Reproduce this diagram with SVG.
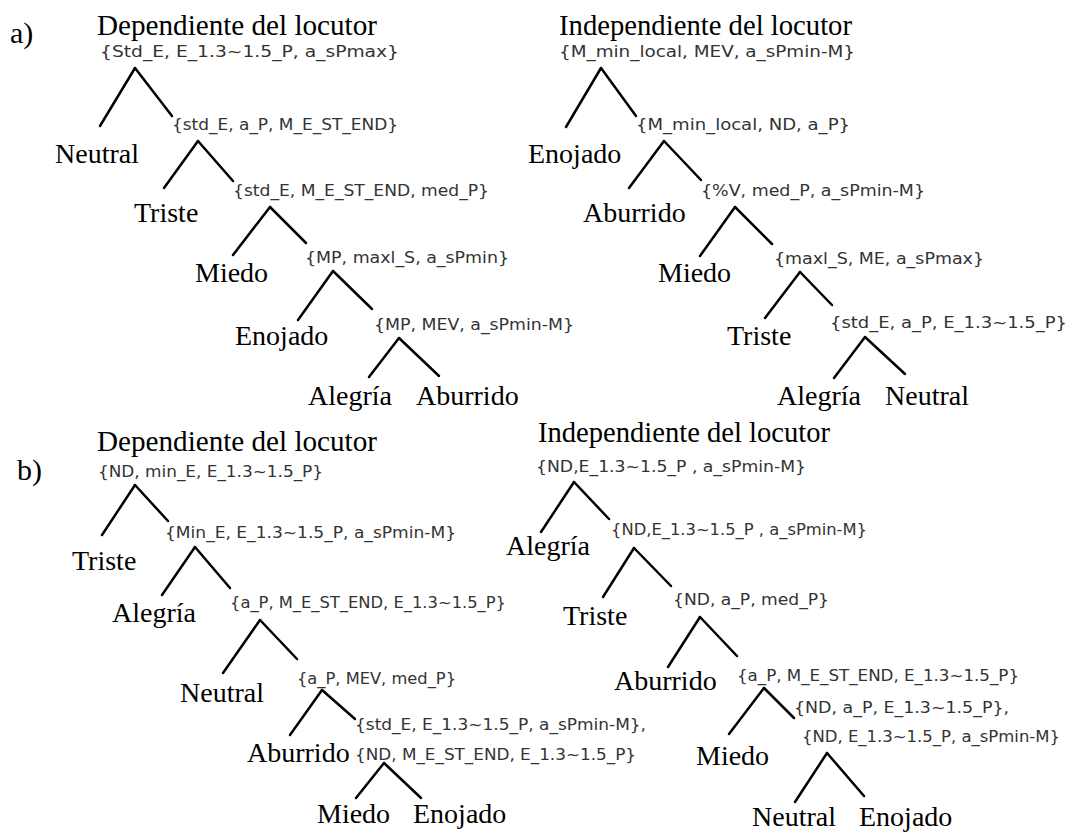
<svg xmlns="http://www.w3.org/2000/svg" width="1072" height="833" viewBox="0 0 1072 833">
<style>
.h{font-family:"Liberation Serif",serif;font-size:29px;fill:#000}
.t{font-family:"Liberation Serif",serif;font-size:28px;fill:#000}
.p{font-family:"Liberation Serif",serif;font-size:30px;fill:#000}
.s{font-family:"DejaVu Sans",sans-serif;font-size:16px;fill:#333}
#connectors line{stroke:#000;stroke-width:2.5;stroke-linecap:round}
</style>
<rect width="1072" height="833" fill="#fff"/>
<g id="labels">
<text class="p" x="10" y="43">a)</text>
<text class="p" x="17" y="480">b)</text>
<text class="h" x="97" y="35" textLength="280" lengthAdjust="spacingAndGlyphs">Dependiente del locutor</text>
<text class="h" x="559" y="35" textLength="293" lengthAdjust="spacingAndGlyphs">Independiente del locutor</text>
<text class="h" x="97" y="451" textLength="280" lengthAdjust="spacingAndGlyphs">Dependiente del locutor</text>
<text class="h" x="538" y="442" textLength="292" lengthAdjust="spacingAndGlyphs">Independiente del locutor</text>
</g>
<g id="connectors">
<line x1="135" y1="68" x2="100" y2="126"/><line x1="135" y1="68" x2="172" y2="116"/>
<line x1="198" y1="141" x2="164" y2="188"/><line x1="198" y1="141" x2="233" y2="181"/>
<line x1="270" y1="207" x2="233" y2="255"/><line x1="270" y1="207" x2="306" y2="243"/>
<line x1="333" y1="271" x2="298" y2="320"/><line x1="333" y1="271" x2="372" y2="309"/>
<line x1="399" y1="338" x2="369" y2="377"/><line x1="399" y1="338" x2="439" y2="376"/>
<line x1="601" y1="68" x2="566" y2="127"/><line x1="601" y1="68" x2="636" y2="116"/>
<line x1="664" y1="141" x2="629" y2="188"/><line x1="664" y1="141" x2="701" y2="180"/>
<line x1="735" y1="207" x2="700" y2="256"/><line x1="735" y1="207" x2="772" y2="244"/>
<line x1="800" y1="272" x2="765" y2="318"/><line x1="800" y1="272" x2="832" y2="305"/>
<line x1="865" y1="337" x2="834" y2="378"/><line x1="865" y1="337" x2="905" y2="374"/>
<line x1="135" y1="485" x2="102" y2="535"/><line x1="135" y1="485" x2="168" y2="521"/>
<line x1="195" y1="547" x2="162" y2="595"/><line x1="195" y1="547" x2="230" y2="588"/>
<line x1="260" y1="620" x2="223" y2="673"/><line x1="260" y1="620" x2="297" y2="659"/>
<line x1="322" y1="690" x2="290" y2="735"/><line x1="322" y1="690" x2="355" y2="719"/>
<line x1="384" y1="763" x2="356" y2="798"/><line x1="384" y1="763" x2="421" y2="798"/>
<line x1="574" y1="482" x2="541" y2="532"/><line x1="574" y1="482" x2="609" y2="519"/>
<line x1="634" y1="548" x2="603" y2="597"/><line x1="634" y1="548" x2="671" y2="586"/>
<line x1="700" y1="617" x2="668" y2="667"/><line x1="700" y1="617" x2="737" y2="656"/>
<line x1="764" y1="688" x2="729" y2="734"/><line x1="764" y1="688" x2="794" y2="718"/>
<line x1="827" y1="753" x2="795" y2="802"/><line x1="827" y1="753" x2="864" y2="796"/>
</g>
<g id="aL1"><text class="s" x="100" y="57" textLength="299" lengthAdjust="spacingAndGlyphs">{Std_E, E_1.3~1.5_P, a_sPmax}</text></g>
<g id="aL-neutral"><text class="t" x="55" y="163">Neutral</text></g>
<g id="aL2"><text class="s" x="172" y="130" textLength="226" lengthAdjust="spacingAndGlyphs">{std_E, a_P, M_E_ST_END}</text></g>
<g id="aL-triste"><text class="t" x="134" y="222">Triste</text></g>
<g id="aL3"><text class="s" x="233" y="196" textLength="256" lengthAdjust="spacingAndGlyphs">{std_E, M_E_ST_END, med_P}</text></g>
<g id="aL-miedo"><text class="t" x="195" y="282">Miedo</text></g>
<g id="aL4"><text class="s" x="305" y="263" textLength="204" lengthAdjust="spacingAndGlyphs">{MP, maxl_S, a_sPmin}</text></g>
<g id="aL-enojado"><text class="t" x="235" y="345">Enojado</text></g>
<g id="aL5"><text class="s" x="374" y="330" textLength="200" lengthAdjust="spacingAndGlyphs">{MP, MEV, a_sPmin-M}</text></g>
<g id="aL-alegria"><text class="t" x="308" y="405">Alegría</text></g>
<g id="aL-aburrido"><text class="t" x="416" y="405">Aburrido</text></g>
<g id="aR1"><text class="s" x="559" y="57" textLength="296" lengthAdjust="spacingAndGlyphs">{M_min_local, MEV, a_sPmin-M}</text></g>
<g id="aR-enojado"><text class="t" x="528" y="163">Enojado</text></g>
<g id="aR2"><text class="s" x="636" y="130" textLength="214" lengthAdjust="spacingAndGlyphs">{M_min_local, ND, a_P}</text></g>
<g id="aR-aburrido"><text class="t" x="583" y="222">Aburrido</text></g>
<g id="aR3"><text class="s" x="701" y="196" textLength="224" lengthAdjust="spacingAndGlyphs">{%V, med_P, a_sPmin-M}</text></g>
<g id="aR-miedo"><text class="t" x="658" y="282">Miedo</text></g>
<g id="aR4"><text class="s" x="774" y="264" textLength="210" lengthAdjust="spacingAndGlyphs">{maxl_S, ME, a_sPmax}</text></g>
<g id="aR-triste"><text class="t" x="727" y="345">Triste</text></g>
<g id="aR5"><text class="s" x="830" y="328" textLength="237" lengthAdjust="spacingAndGlyphs">{std_E, a_P, E_1.3~1.5_P}</text></g>
<g id="aR-alegria"><text class="t" x="777" y="405">Alegría</text></g>
<g id="aR-neutral"><text class="t" x="885" y="405">Neutral</text></g>
<g id="bL1"><text class="s" x="98" y="477" textLength="225" lengthAdjust="spacingAndGlyphs">{ND, min_E, E_1.3~1.5_P}</text></g>
<g id="bL-triste"><text class="t" x="72" y="570">Triste</text></g>
<g id="bL2"><text class="s" x="165" y="538" textLength="291" lengthAdjust="spacingAndGlyphs">{Min_E, E_1.3~1.5_P, a_sPmin-M}</text></g>
<g id="bL-alegria"><text class="t" x="112" y="622">Alegría</text></g>
<g id="bL3"><text class="s" x="230" y="608" textLength="276" lengthAdjust="spacingAndGlyphs">{a_P, M_E_ST_END, E_1.3~1.5_P}</text></g>
<g id="bL-neutral"><text class="t" x="180" y="702">Neutral</text></g>
<g id="bL4"><text class="s" x="297" y="684" textLength="159" lengthAdjust="spacingAndGlyphs">{a_P, MEV, med_P}</text></g>
<g id="bL-aburrido"><text class="t" x="247" y="762">Aburrido</text></g>
<g id="bL5"><text class="s" x="355" y="730" textLength="291" lengthAdjust="spacingAndGlyphs">{std_E, E_1.3~1.5_P, a_sPmin-M},</text><text class="s" x="355" y="760" textLength="281" lengthAdjust="spacingAndGlyphs">{ND, M_E_ST_END, E_1.3~1.5_P}</text></g>
<g id="bL-miedo"><text class="t" x="317" y="823">Miedo</text></g>
<g id="bL-enojado"><text class="t" x="413" y="823">Enojado</text></g>
<g id="bR1"><text class="s" x="536" y="472" textLength="270" lengthAdjust="spacingAndGlyphs">{ND,E_1.3~1.5_P , a_sPmin-M}</text></g>
<g id="bR-alegria"><text class="t" x="506" y="555">Alegría</text></g>
<g id="bR2"><text class="s" x="611" y="535" textLength="256" lengthAdjust="spacingAndGlyphs">{ND,E_1.3~1.5_P , a_sPmin-M}</text></g>
<g id="bR-triste"><text class="t" x="563" y="625">Triste</text></g>
<g id="bR3"><text class="s" x="673" y="605" textLength="156" lengthAdjust="spacingAndGlyphs">{ND, a_P, med_P}</text></g>
<g id="bR-aburrido"><text class="t" x="614" y="690">Aburrido</text></g>
<g id="bR4"><text class="s" x="737" y="681" textLength="282" lengthAdjust="spacingAndGlyphs">{a_P, M_E_ST_END, E_1.3~1.5_P}</text></g>
<g id="bR-miedo"><text class="t" x="696" y="765">Miedo</text></g>
<g id="bR5"><text class="s" x="794" y="713" textLength="215" lengthAdjust="spacingAndGlyphs">{ND, a_P, E_1.3~1.5_P},</text><text class="s" x="802" y="742" textLength="258" lengthAdjust="spacingAndGlyphs">{ND, E_1.3~1.5_P, a_sPmin-M}</text></g>
<g id="bR-neutral"><text class="t" x="752" y="826">Neutral</text></g>
<g id="bR-enojado"><text class="t" x="859" y="826">Enojado</text></g>
</svg>
